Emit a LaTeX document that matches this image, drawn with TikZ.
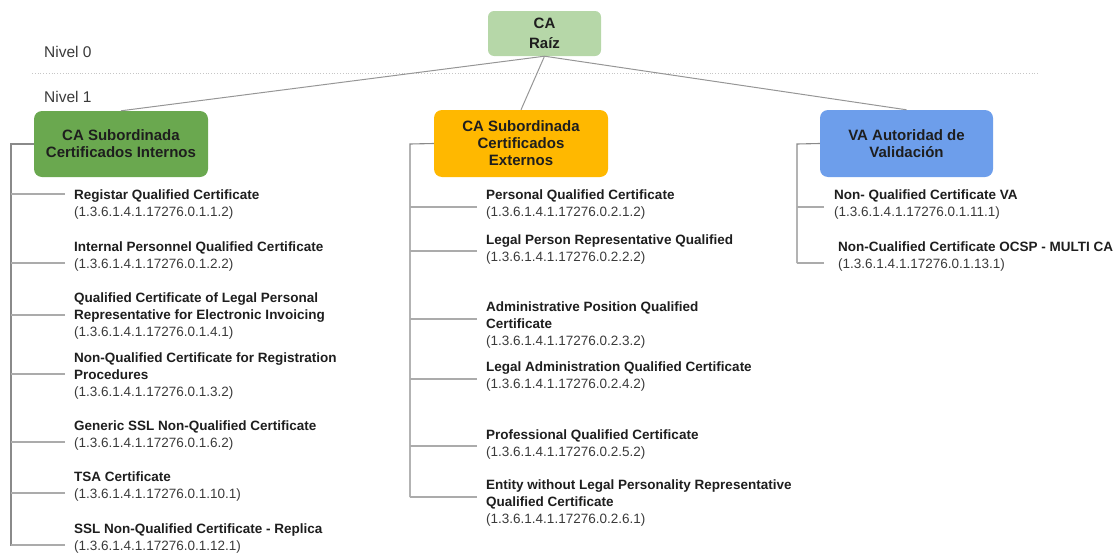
\documentclass[tikz,border=0pt]{standalone}
\usepackage{fontspec}
\setmainfont{Liberation Sans}
\definecolor{rootfill}{HTML}{B6D7A8}
\definecolor{greenfill}{HTML}{6AA84F}
\definecolor{orangefill}{HTML}{FFB800}
\definecolor{bluefill}{HTML}{6D9EEB}
\definecolor{txt}{HTML}{1E1E1E}
\definecolor{oid}{HTML}{3A3A3A}
\definecolor{trunk}{HTML}{8A8A8A}
\definecolor{branch}{HTML}{ABABAB}
\begin{document}
\begin{tikzpicture}[x=1pt,y=-1pt,
  box/.style={rounded corners=8pt, draw=none, align=center, text=txt,
    font=\fontsize{15}{17}\selectfont\bfseries, inner sep=0pt},
  item/.style={anchor=base west, align=left, text=oid, inner sep=0pt,
    font=\fontsize{13.5}{16.8}\selectfont},
  lvl/.style={anchor=base west, text=oid, inner sep=0pt, font=\fontsize{15.5}{18}\selectfont},
  tie/.style={draw=trunk, line width=1.1pt},
  twig/.style={draw=branch, line width=1.1pt},
  link/.style={draw=trunk!90, line width=1pt}]
\useasboundingbox (0,0) rectangle (1118,554);

% levels
\node[lvl] (n0) at (44,57.5) {Nivel 0};
\node[lvl] (n1) at (44,102.5) {Nivel 1};
\coordinate (dl) at (32,73);
\coordinate (dr) at (1038,73);
\draw[gray!45, dotted, line width=0.8pt] (dl) -- (dr);

% boxes
\node[box, fill=rootfill, rounded corners=6pt, minimum width=113pt, minimum height=45pt,
  font=\fontsize{15}{19.5}\selectfont\bfseries] (root) at (544.5,33.5) {CA\\Raíz};
\node[box, fill=greenfill, minimum width=174pt, minimum height=66pt] (green) at (121,144) {CA Subordinada\\Certificados Internos};
\node[box, fill=orangefill, minimum width=174pt, minimum height=67pt] (orange) at (521,143.5) {CA Subordinada\\Certificados\\Externos};
\node[box, fill=bluefill, minimum width=173pt, minimum height=67pt] (blue) at (906.5,143.5) {VA Autoridad de\\Validación};

\draw[link] (root.south) -- (green.north);
\draw[link] (root.south) -- (orange.north);
\draw[link] (root.south) -- (blue.north);

% green items (anchor = baseline of the last line)
\node[item] (g1) at (74,216) {\textbf{\color{txt}Registar Qualified Certificate}\\(1.3.6.1.4.1.17276.0.1.1.2)};
\node[item] (g2) at (74,268) {\textbf{\color{txt}Internal Personnel Qualified Certificate}\\(1.3.6.1.4.1.17276.0.1.2.2)};
\node[item] (g3) at (74,336) {\textbf{\color{txt}Qualified Certificate of Legal Personal}\\\textbf{\color{txt}Representative for Electronic Invoicing}\\(1.3.6.1.4.1.17276.0.1.4.1)};
\node[item] (g4) at (74,396) {\textbf{\color{txt}Non-Qualified Certificate for Registration}\\\textbf{\color{txt}Procedures}\\(1.3.6.1.4.1.17276.0.1.3.2)};
\node[item] (g5) at (74,447) {\textbf{\color{txt}Generic SSL Non-Qualified Certificate}\\(1.3.6.1.4.1.17276.0.1.6.2)};
\node[item] (g6) at (74,498) {\textbf{\color{txt}TSA Certificate}\\(1.3.6.1.4.1.17276.0.1.10.1)};
\node[item] (g7) at (74,550) {\textbf{\color{txt}SSL Non-Qualified Certificate - Replica}\\(1.3.6.1.4.1.17276.0.1.12.1)};

\coordinate (gt) at (11,144);
\coordinate (gb) at (11,546);
\draw[tie] (green.west) -- (gt) -- (gb);
\foreach \n/\y in {g1/194, g2/263, g3/315, g4/374, g5/442, g6/493, g7/545}{
  \coordinate (\n e) at (65,\y);
  \draw[twig] (\n e) -- (\n e -| gt);
}

% orange items
\node[item] (o1) at (486,216) {\textbf{\color{txt}Personal Qualified Certificate}\\(1.3.6.1.4.1.17276.0.2.1.2)};
\node[item] (o2) at (486,261) {\textbf{\color{txt}Legal Person Representative Qualified}\\(1.3.6.1.4.1.17276.0.2.2.2)};
\node[item] (o3) at (486,345) {\textbf{\color{txt}Administrative Position Qualified}\\\textbf{\color{txt}Certificate}\\(1.3.6.1.4.1.17276.0.2.3.2)};
\node[item] (o4) at (486,388) {\textbf{\color{txt}Legal Administration Qualified Certificate}\\(1.3.6.1.4.1.17276.0.2.4.2)};
\node[item] (o5) at (486,456) {\textbf{\color{txt}Professional Qualified Certificate}\\(1.3.6.1.4.1.17276.0.2.5.2)};
\node[item] (o6) at (486,523) {\textbf{\color{txt}Entity without Legal Personality Representative}\\\textbf{\color{txt}Qualified Certificate}\\(1.3.6.1.4.1.17276.0.2.6.1)};

\coordinate (ot) at (410,144);
\coordinate (ob) at (410,497);
\draw[tie] (orange.west) -- (ot) -- (ob);
\foreach \n/\y in {o1/207, o2/251, o3/319, o4/379, o5/446, o6/497}{
  \coordinate (\n e) at (477,\y);
  \draw[twig] (\n e) -- (\n e -| ot);
}

% blue items
\node[item] (b1) at (834,216) {\textbf{\color{txt}Non- Qualified Certificate VA}\\(1.3.6.1.4.1.17276.0.1.11.1)};
\node[item] (b2) at (838,268) {\textbf{\color{txt}Non-Cualified Certificate OCSP - MULTI CA}\\(1.3.6.1.4.1.17276.0.1.13.1)};

\coordinate (bt) at (797,144);
\coordinate (bb) at (797,263);
\draw[tie] (blue.west) -- (bt) -- (bb);
\foreach \n/\y in {b1/207, b2/263}{
  \coordinate (\n e) at (824,\y);
  \draw[twig] (\n e) -- (\n e -| bt);
}
\end{tikzpicture}
\end{document}
